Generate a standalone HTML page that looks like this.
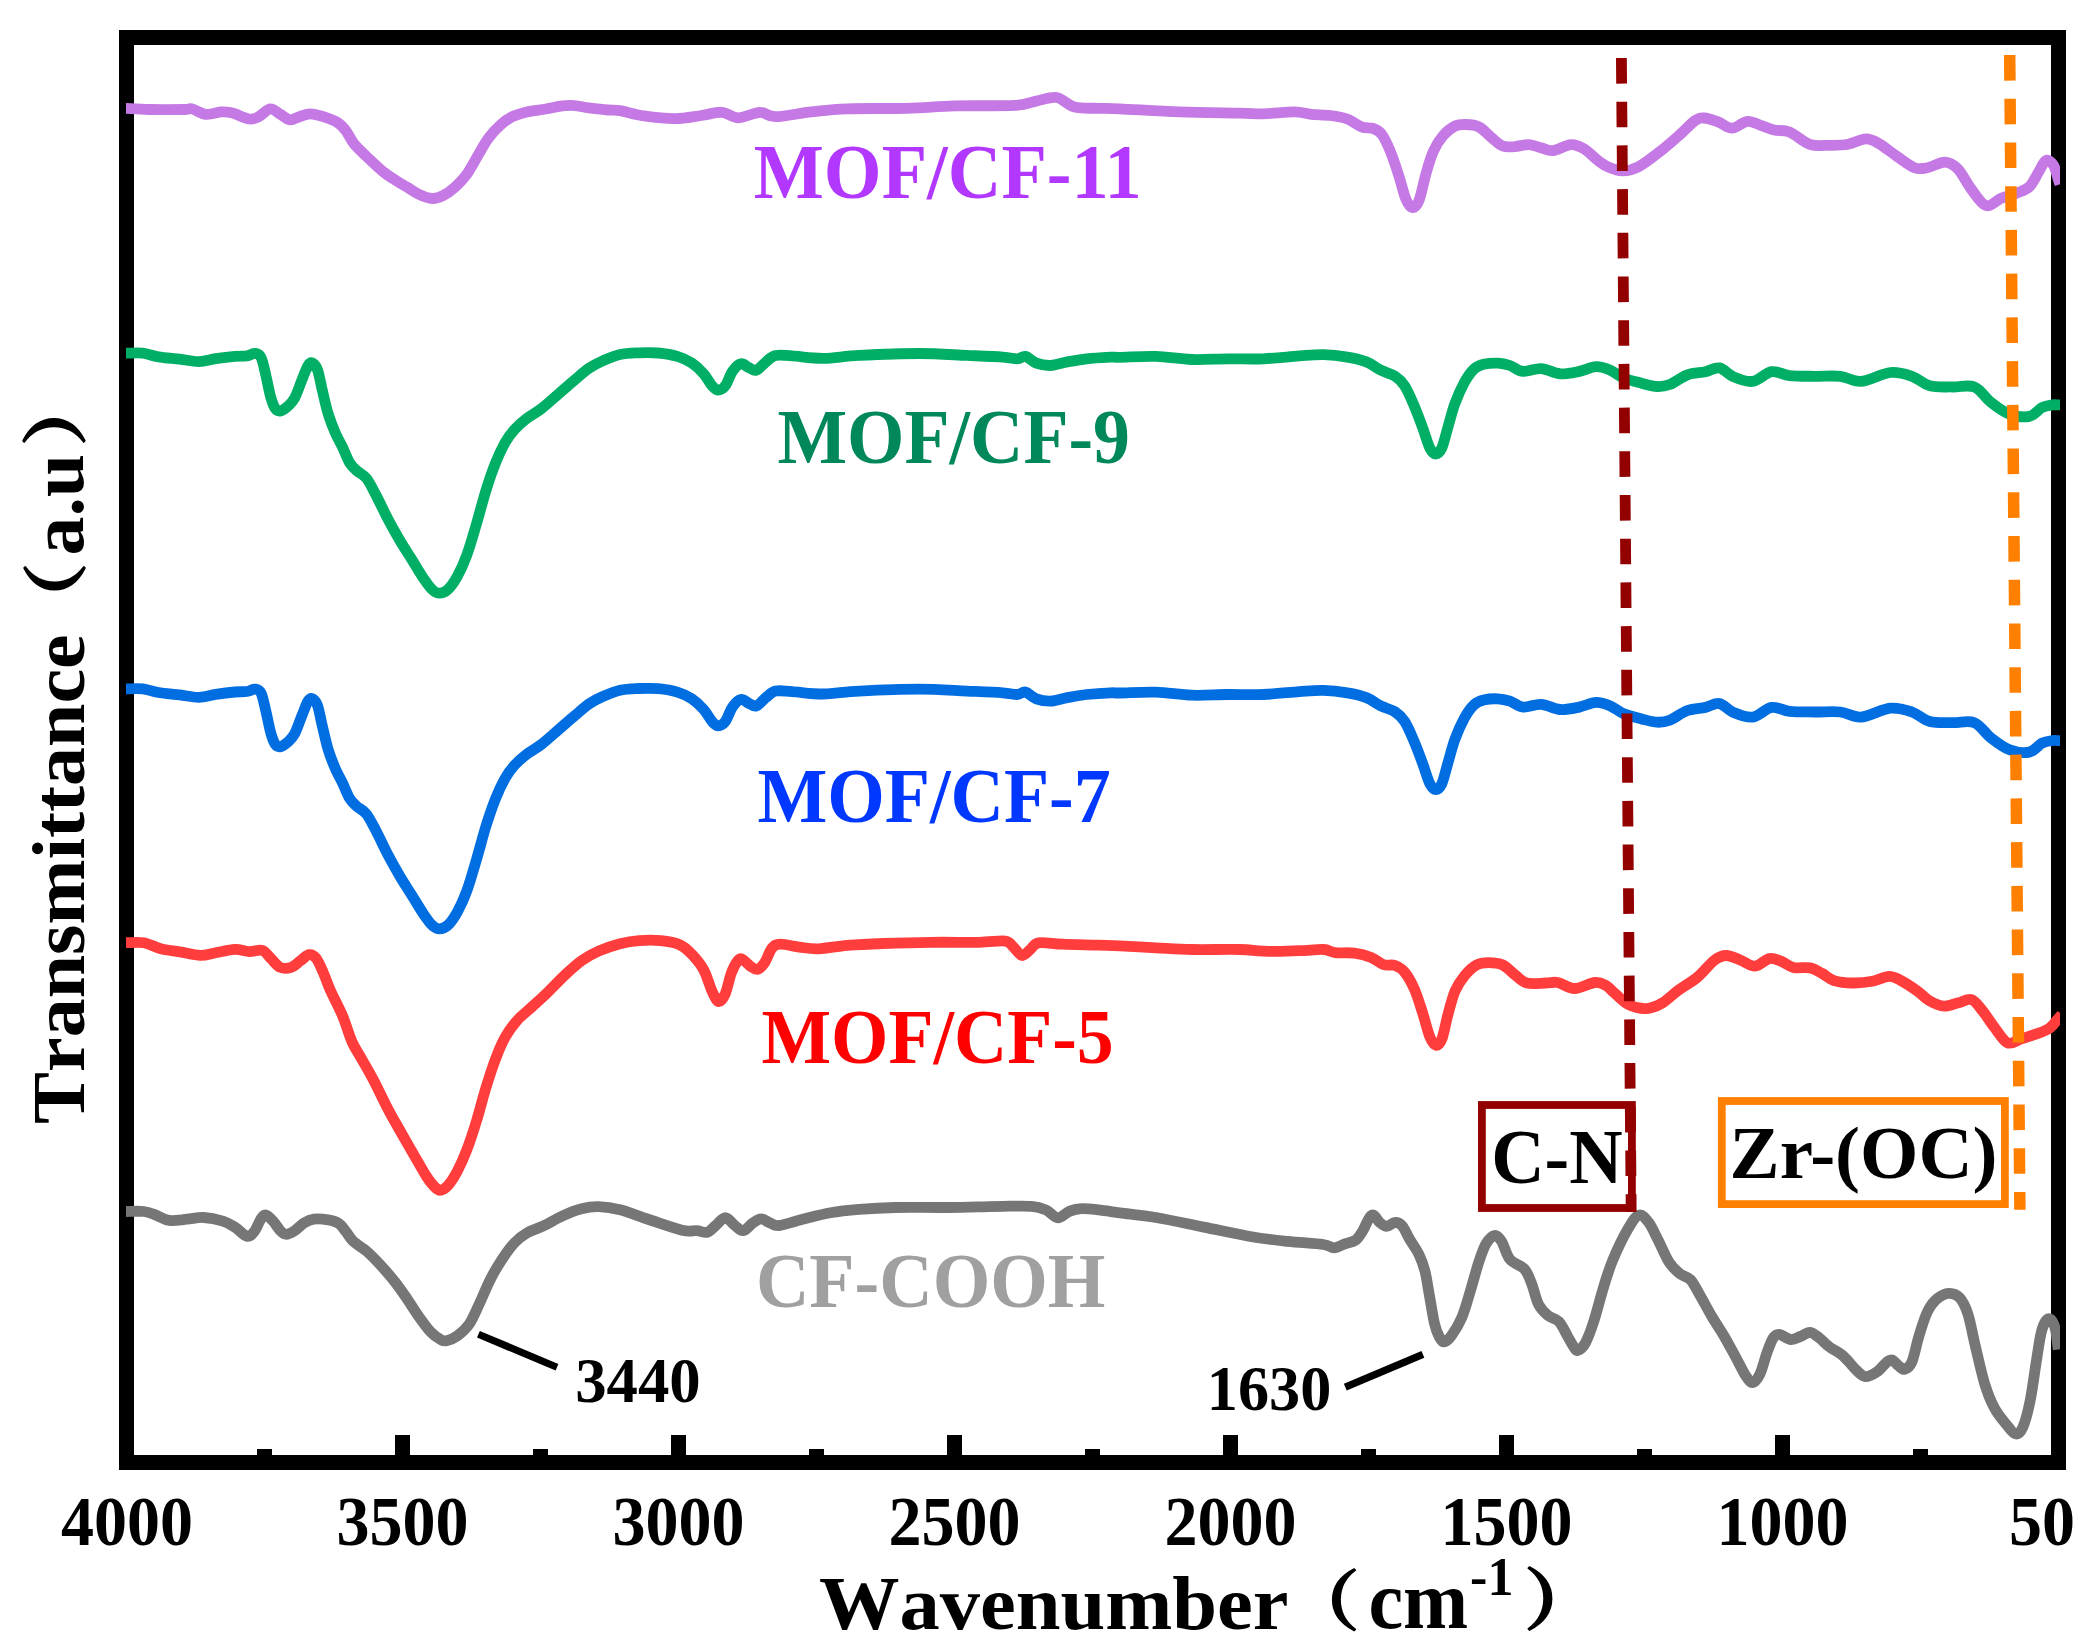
<!DOCTYPE html>
<html lang="en"><head><meta charset="utf-8"><title>FTIR spectra</title>
<style>html,body{margin:0;padding:0;background:#fff;overflow:hidden}svg{display:block}text{font-family:"Liberation Serif","Noto Serif CJK SC",serif;font-weight:bold}.nk{font-kerning:none}</style>
</head><body>
<svg width="2090" height="1647" viewBox="0 0 2090 1647">
<rect class="g" x="0" y="0" width="2090" height="1647" fill="#fff"/>
<rect class="g" x="126.5" y="37.5" width="1932.0" height="1425.0" fill="none" stroke="#000" stroke-width="15"/>
<rect class="g" x="257.0" y="1449" width="15.0" height="7.0" fill="#000"/>
<rect class="g" x="395.0" y="1435" width="15.0" height="21.0" fill="#000"/>
<rect class="g" x="533.0" y="1449" width="15.0" height="7.0" fill="#000"/>
<rect class="g" x="671.0" y="1435" width="15.0" height="21.0" fill="#000"/>
<rect class="g" x="809.0" y="1449" width="15.0" height="7.0" fill="#000"/>
<rect class="g" x="947.0" y="1435" width="15.0" height="21.0" fill="#000"/>
<rect class="g" x="1085.0" y="1449" width="15.0" height="7.0" fill="#000"/>
<rect class="g" x="1223.0" y="1435" width="15.0" height="21.0" fill="#000"/>
<rect class="g" x="1361.0" y="1449" width="15.0" height="7.0" fill="#000"/>
<rect class="g" x="1499.0" y="1435" width="15.0" height="21.0" fill="#000"/>
<rect class="g" x="1637.0" y="1449" width="15.0" height="7.0" fill="#000"/>
<rect class="g" x="1775.0" y="1435" width="15.0" height="21.0" fill="#000"/>
<rect class="g" x="1913.0" y="1449" width="15.0" height="7.0" fill="#000"/>
<defs><clipPath id="pc"><rect x="126" y="0" width="1934" height="1647"/></clipPath></defs>
<path class="g" clip-path="url(#pc)" d="M123.0,1211.5C123.5,1211.5 122.5,1211.5 126.0,1211.5C129.5,1211.5 138.9,1210.9 143.9,1211.5C148.9,1212.1 151.7,1213.6 155.9,1215.1C160.1,1216.6 163.8,1219.7 169.0,1220.4C174.2,1221.1 181.2,1219.7 187.0,1219.2C192.8,1218.7 197.7,1217.2 203.7,1217.5C209.7,1217.8 217.7,1219.5 222.9,1221.1C228.1,1222.7 230.8,1224.6 234.8,1227.1C238.8,1229.6 243.6,1235.4 246.8,1236.2C250.0,1237.0 251.6,1234.8 254.0,1231.9C256.4,1229.0 259.1,1221.5 261.1,1218.7C263.1,1215.9 263.9,1214.7 265.9,1215.1C267.9,1215.5 270.7,1218.5 273.1,1221.1C275.5,1223.7 278.1,1228.5 280.3,1230.7C282.5,1232.9 283.9,1234.3 286.3,1234.3C288.7,1234.3 291.6,1232.6 294.6,1230.7C297.6,1228.8 301.0,1224.7 304.2,1222.8C307.4,1220.9 309.8,1219.7 313.8,1219.2C317.8,1218.7 323.9,1219.2 328.1,1219.9C332.3,1220.6 335.9,1221.5 338.9,1223.5C341.9,1225.5 343.7,1228.9 346.1,1231.9C348.5,1234.9 349.9,1238.2 353.3,1241.4C356.7,1244.6 361.8,1247.0 366.4,1251.0C371.0,1255.0 376.0,1260.2 380.8,1265.4C385.6,1270.6 390.7,1276.5 395.1,1282.1C399.5,1287.7 403.1,1293.1 407.1,1298.9C411.1,1304.7 415.0,1311.2 419.0,1316.8C423.0,1322.4 427.4,1328.5 431.0,1332.3C434.6,1336.1 438.0,1338.1 440.6,1339.5C443.2,1340.9 443.8,1341.3 446.6,1340.7C449.4,1340.1 453.5,1338.7 457.3,1335.9C461.1,1333.1 465.7,1329.2 469.3,1324.0C472.9,1318.8 475.3,1312.4 478.9,1304.8C482.5,1297.2 486.8,1286.3 490.8,1278.5C494.8,1270.7 498.8,1264.2 502.8,1258.2C506.8,1252.2 510.7,1246.8 514.7,1242.6C518.7,1238.4 521.9,1235.9 526.7,1233.1C531.5,1230.3 537.4,1228.8 543.4,1225.9C549.4,1223.0 556.2,1218.7 562.6,1215.8C569.0,1212.9 575.7,1210.2 581.7,1208.7C587.7,1207.2 592.1,1206.5 598.5,1206.7C604.9,1206.9 611.6,1207.7 620.0,1209.8C628.4,1211.9 638.3,1216.1 648.7,1219.5C659.1,1222.9 674.2,1228.3 682.2,1230.2C690.2,1232.1 692.4,1230.4 696.6,1230.7C700.8,1231.0 704.1,1233.1 707.3,1232.2C710.5,1231.3 712.7,1227.9 715.7,1225.5C718.7,1223.1 722.1,1217.6 725.3,1217.6C728.5,1217.6 731.8,1223.3 734.8,1225.5C737.8,1227.7 740.2,1231.1 743.2,1230.7C746.2,1230.3 749.8,1225.1 752.8,1223.1C755.8,1221.1 758.3,1218.9 761.1,1218.8C763.9,1218.7 766.5,1221.5 769.5,1222.6C772.5,1223.7 773.7,1226.0 779.1,1225.5C784.5,1225.0 793.2,1221.6 801.8,1219.5C810.4,1217.4 820.9,1214.5 830.5,1212.8C840.1,1211.1 848.4,1210.3 859.2,1209.4C870.0,1208.5 881.1,1207.8 895.1,1207.5C909.1,1207.2 929.0,1207.6 943.0,1207.5C957.0,1207.4 968.9,1207.0 978.9,1206.8C988.9,1206.6 994.0,1206.4 1002.8,1206.3C1011.6,1206.2 1024.3,1205.7 1031.5,1206.3C1038.7,1206.9 1041.4,1208.0 1045.8,1209.9C1050.2,1211.8 1053.8,1217.6 1057.8,1217.8C1061.8,1218.0 1065.8,1212.6 1069.8,1211.1C1073.8,1209.6 1076.9,1208.9 1081.7,1208.7C1086.5,1208.5 1092.1,1209.2 1098.5,1209.9C1104.9,1210.6 1110.4,1211.5 1120.0,1212.8C1129.6,1214.1 1142.0,1215.1 1155.9,1217.5C1169.9,1219.9 1187.8,1223.9 1203.7,1227.1C1219.7,1230.3 1237.6,1234.3 1251.6,1236.7C1265.6,1239.1 1275.5,1240.1 1287.5,1241.4C1299.5,1242.7 1315.6,1243.4 1323.4,1244.5C1331.2,1245.6 1330.5,1248.0 1334.1,1247.9C1337.7,1247.8 1341.3,1245.1 1344.9,1243.8C1348.5,1242.5 1352.6,1242.4 1355.6,1240.2C1358.6,1238.0 1360.6,1234.3 1362.8,1230.7C1365.0,1227.1 1367.0,1221.3 1368.8,1218.7C1370.6,1216.1 1371.8,1214.5 1373.6,1215.1C1375.4,1215.7 1377.4,1220.4 1379.6,1222.3C1381.8,1224.2 1384.1,1226.4 1386.7,1226.4C1389.3,1226.4 1392.5,1222.4 1395.1,1222.3C1397.7,1222.2 1399.9,1223.1 1402.3,1225.9C1404.7,1228.7 1406.7,1234.2 1409.5,1239.0C1412.3,1243.8 1416.4,1249.2 1419.0,1254.6C1421.6,1260.0 1423.2,1264.1 1425.0,1271.3C1426.8,1278.5 1428.2,1288.9 1429.8,1297.7C1431.4,1306.5 1433.0,1317.4 1434.6,1324.0C1436.2,1330.6 1437.8,1334.1 1439.4,1337.1C1441.0,1340.1 1442.2,1342.1 1444.2,1341.9C1446.2,1341.7 1448.3,1340.1 1451.3,1335.9C1454.3,1331.7 1458.9,1324.4 1462.1,1316.8C1465.3,1309.2 1467.7,1299.7 1470.5,1290.5C1473.3,1281.3 1476.3,1269.6 1478.9,1261.8C1481.5,1254.0 1483.4,1248.2 1486.0,1243.8C1488.6,1239.4 1491.8,1235.9 1494.4,1235.5C1497.0,1235.1 1499.0,1237.4 1501.6,1241.4C1504.2,1245.4 1506.2,1254.8 1510.0,1259.4C1513.8,1264.0 1520.7,1264.9 1524.3,1268.9C1527.9,1272.9 1529.1,1277.3 1531.5,1283.3C1533.9,1289.3 1535.9,1299.4 1538.7,1304.8C1541.5,1310.2 1544.8,1312.8 1548.2,1315.6C1551.6,1318.4 1555.8,1318.2 1559.0,1321.6C1562.2,1325.0 1564.8,1331.5 1567.4,1335.9C1570.0,1340.3 1572.7,1345.5 1574.5,1347.9C1576.3,1350.3 1576.3,1351.1 1578.1,1350.3C1579.9,1349.5 1582.7,1347.9 1585.3,1343.1C1587.9,1338.3 1590.7,1330.8 1593.7,1321.6C1596.7,1312.4 1600.1,1298.4 1603.3,1288.1C1606.5,1277.8 1608.6,1270.0 1612.8,1260.0C1617.0,1250.0 1623.9,1235.8 1628.3,1228.3C1632.7,1220.8 1635.6,1216.1 1639.0,1215.1C1642.4,1214.1 1645.4,1218.1 1648.6,1222.3C1651.8,1226.5 1654.8,1233.6 1658.2,1240.2C1661.6,1246.8 1665.3,1256.2 1668.9,1261.8C1672.5,1267.4 1676.1,1270.7 1679.7,1273.7C1683.3,1276.7 1687.1,1276.1 1690.5,1279.7C1693.9,1283.3 1696.4,1289.1 1700.0,1295.3C1703.6,1301.5 1708.0,1310.0 1712.0,1316.8C1716.0,1323.6 1720.0,1329.1 1724.0,1335.9C1728.0,1342.7 1732.3,1350.9 1735.9,1357.5C1739.5,1364.1 1742.7,1371.2 1745.5,1375.4C1748.3,1379.6 1750.3,1382.8 1752.7,1382.6C1755.1,1382.4 1757.5,1379.2 1759.9,1374.2C1762.3,1369.2 1764.8,1358.7 1767.0,1352.7C1769.2,1346.7 1771.0,1341.4 1773.0,1338.3C1775.0,1335.2 1776.0,1334.1 1779.0,1334.3C1782.0,1334.5 1787.4,1339.2 1791.0,1339.5C1794.6,1339.8 1797.3,1337.6 1800.5,1336.4C1803.7,1335.2 1806.9,1332.0 1810.1,1332.3C1813.3,1332.6 1816.5,1335.9 1819.7,1338.3C1822.9,1340.7 1825.2,1343.7 1829.2,1346.7C1833.2,1349.7 1839.2,1352.5 1843.6,1356.3C1848.0,1360.1 1852.0,1366.0 1855.6,1369.4C1859.2,1372.8 1861.5,1376.2 1865.1,1376.6C1868.7,1377.0 1873.5,1374.2 1877.1,1371.8C1880.7,1369.4 1884.2,1364.2 1886.7,1362.2C1889.2,1360.2 1889.9,1359.3 1891.9,1359.9C1893.9,1360.5 1896.5,1364.2 1898.6,1365.8C1900.7,1367.4 1902.4,1370.0 1904.6,1369.4C1906.8,1368.8 1909.4,1367.8 1911.8,1362.2C1914.2,1356.6 1916.4,1344.3 1919.0,1335.9C1921.6,1327.5 1924.3,1318.2 1927.3,1312.0C1930.3,1305.8 1933.3,1302.0 1936.9,1298.9C1940.5,1295.8 1945.1,1293.5 1948.9,1293.3C1952.7,1293.1 1956.4,1294.2 1959.6,1297.7C1962.8,1301.2 1965.4,1306.4 1968.0,1314.4C1970.6,1322.4 1972.4,1333.9 1975.2,1345.5C1978.0,1357.1 1981.5,1373.4 1984.7,1383.8C1987.9,1394.2 1990.7,1400.9 1994.3,1407.7C1997.9,1414.5 2002.7,1420.0 2006.3,1424.4C2009.9,1428.8 2013.0,1433.6 2015.8,1434.0C2018.6,1434.4 2020.6,1432.4 2023.0,1426.8C2025.4,1421.2 2028.0,1411.3 2030.2,1400.5C2032.4,1389.7 2034.4,1373.4 2036.2,1362.2C2038.0,1351.0 2039.4,1340.3 2041.0,1333.5C2042.6,1326.7 2044.1,1323.5 2045.7,1321.1C2047.3,1318.7 2048.9,1317.9 2050.5,1319.2C2052.1,1320.5 2054.1,1324.4 2055.3,1328.8C2056.5,1333.2 2057.2,1342.1 2057.7,1345.5C2058.2,1348.9 2058.2,1348.8 2058.3,1349.5" fill="none" stroke="#767676" stroke-width="10.8" stroke-linejoin="round" stroke-linecap="butt"/>
<path class="g" clip-path="url(#pc)" d="M123.0,942.7C123.5,942.7 122.5,942.7 126.0,942.7C129.5,942.7 138.1,941.7 143.9,942.7C149.7,943.7 154.7,947.2 160.7,948.7C166.7,950.2 173.2,950.7 179.8,951.8C186.4,952.9 194.1,955.2 200.1,955.4C206.1,955.6 209.9,953.8 215.7,952.8C221.5,951.8 229.2,949.6 234.8,949.4C240.4,949.2 244.6,951.4 249.2,951.6C253.8,951.8 258.7,949.3 262.3,950.4C265.9,951.5 267.7,955.5 270.7,958.3C273.7,961.1 276.9,965.9 280.3,967.4C283.7,968.9 287.7,968.5 291.1,967.4C294.5,966.3 297.6,962.8 300.6,960.7C303.6,958.6 306.4,955.1 309.0,954.7C311.6,954.3 313.8,955.3 316.2,958.3C318.6,961.3 320.9,967.2 323.3,972.6C325.7,978.0 327.3,983.4 330.5,990.6C333.7,997.8 338.9,1007.1 342.5,1015.7C346.1,1024.3 348.9,1034.8 352.1,1042.0C355.3,1049.2 358.0,1052.4 361.6,1058.8C365.2,1065.2 369.2,1071.9 373.6,1080.3C378.0,1088.7 383.5,1100.6 387.9,1109.0C392.3,1117.4 395.5,1122.7 399.9,1130.5C404.3,1138.3 409.9,1148.0 414.3,1155.6C418.7,1163.2 423.0,1171.0 426.2,1176.0C429.4,1181.0 431.1,1183.2 433.4,1185.6C435.7,1188.0 437.5,1190.3 439.9,1190.3C442.3,1190.3 444.9,1188.8 447.8,1185.6C450.7,1182.4 454.1,1177.2 457.3,1171.2C460.5,1165.2 463.7,1158.1 466.9,1149.7C470.1,1141.3 473.3,1131.4 476.5,1121.0C479.7,1110.6 482.8,1097.9 486.0,1087.5C489.2,1077.1 492.4,1067.2 495.6,1058.8C498.8,1050.4 501.6,1043.6 505.2,1037.2C508.8,1030.8 512.7,1025.5 517.1,1020.5C521.5,1015.5 526.3,1012.1 531.5,1007.3C536.7,1002.5 542.6,997.2 548.2,991.8C553.8,986.4 559.4,980.2 565.0,975.0C570.6,969.8 576.1,964.7 581.7,960.7C587.3,956.7 592.1,953.9 598.5,951.1C604.9,948.3 613.2,945.5 620.0,943.7C626.8,942.0 632.3,941.1 639.1,940.6C645.9,940.1 653.9,939.9 660.7,940.6C667.5,941.3 674.6,942.4 679.8,944.7C685.0,947.0 687.8,950.1 691.8,954.3C695.8,958.5 700.3,963.6 703.7,969.8C707.1,976.0 709.6,986.0 712.1,991.3C714.6,996.6 716.4,1001.2 718.6,1001.6C720.8,1002.0 723.2,998.4 725.3,993.7C727.4,989.0 729.2,978.8 731.2,973.4C733.2,968.0 735.4,963.8 737.2,961.4C739.0,959.0 739.8,958.2 742.0,959.0C744.2,959.8 747.8,964.5 750.4,966.2C753.0,967.9 755.2,969.9 757.6,969.3C760.0,968.7 762.3,966.1 764.7,962.6C767.1,959.1 769.3,951.4 771.9,948.3C774.5,945.2 775.7,944.4 780.3,944.2C784.9,944.0 793.0,946.3 799.4,947.1C805.8,947.9 810.6,949.1 818.6,948.8C826.6,948.5 836.5,946.3 847.3,945.4C858.1,944.5 869.2,944.0 883.2,943.5C897.2,943.0 915.0,942.5 931.0,942.3C947.0,942.1 966.5,942.5 978.9,942.3C991.3,942.1 999.4,940.3 1005.2,941.1C1011.0,941.9 1010.7,944.7 1013.5,947.1C1016.3,949.5 1019.1,955.1 1021.9,955.5C1024.7,955.9 1027.5,951.6 1030.3,949.5C1033.1,947.4 1033.3,943.7 1038.7,942.8C1044.1,941.9 1052.6,943.8 1062.6,944.2C1072.6,944.6 1088.9,944.9 1098.5,945.2C1108.1,945.5 1110.4,945.5 1120.0,945.9C1129.6,946.3 1143.9,947.2 1155.9,947.8C1167.9,948.4 1177.8,949.2 1191.8,949.5C1205.8,949.8 1226.8,949.2 1239.6,949.5C1252.3,949.8 1258.3,951.2 1268.3,951.4C1278.3,951.6 1290.2,951.0 1299.4,950.7C1308.6,950.4 1317.4,949.2 1323.4,949.5C1329.4,949.8 1330.1,952.0 1335.3,952.6C1340.5,953.2 1348.4,952.3 1354.4,953.1C1360.4,953.9 1366.4,955.5 1371.2,957.4C1376.0,959.3 1379.2,963.1 1383.2,964.5C1387.2,965.9 1391.5,964.2 1395.1,965.5C1398.7,966.8 1401.5,968.3 1404.7,972.2C1407.9,976.1 1411.3,982.1 1414.3,988.9C1417.3,995.7 1420.0,1004.9 1422.6,1012.9C1425.2,1020.9 1427.6,1031.4 1429.8,1036.8C1432.0,1042.2 1433.8,1044.8 1435.8,1045.2C1437.8,1045.6 1439.8,1044.2 1441.8,1039.2C1443.8,1034.2 1445.6,1023.3 1447.8,1015.3C1450.0,1007.3 1452.1,997.9 1454.9,991.3C1457.7,984.7 1460.9,980.2 1464.5,975.8C1468.1,971.4 1472.5,967.2 1476.5,965.0C1480.5,962.8 1484.0,962.6 1488.4,962.6C1492.8,962.6 1498.4,963.0 1502.8,965.0C1507.2,967.0 1510.7,971.6 1514.7,974.6C1518.7,977.6 1521.5,981.6 1526.7,983.0C1531.9,984.4 1540.6,983.1 1545.8,983.0C1551.0,982.9 1553.0,981.6 1557.8,982.5C1562.6,983.4 1568.3,988.5 1574.5,988.5C1580.7,988.5 1589.7,983.0 1594.9,982.5C1600.2,982.0 1602.8,983.8 1606.0,985.5C1609.2,987.2 1610.2,989.3 1613.9,992.5C1617.6,995.7 1622.9,1001.8 1628.3,1004.5C1633.7,1007.2 1640.6,1008.8 1646.2,1008.6C1651.8,1008.4 1656.4,1006.4 1661.8,1003.3C1667.2,1000.2 1672.5,994.5 1678.5,990.1C1684.5,985.7 1691.7,982.0 1697.7,977.0C1703.7,972.0 1709.6,963.8 1714.4,960.2C1719.2,956.6 1722.0,955.5 1726.4,955.5C1730.8,955.5 1735.9,958.4 1740.7,960.2C1745.5,962.0 1750.3,966.5 1755.1,966.2C1759.9,965.9 1765.0,959.4 1769.4,958.6C1773.8,957.8 1777.4,959.9 1781.4,961.4C1785.4,962.9 1788.5,966.3 1793.3,967.4C1798.1,968.5 1805.3,966.9 1810.1,967.9C1814.9,968.9 1818.1,971.3 1822.1,973.4C1826.1,975.5 1828.8,979.0 1834.0,980.6C1839.2,982.2 1846.8,982.9 1853.2,983.0C1859.6,983.1 1866.3,982.4 1872.3,981.3C1878.3,980.2 1884.2,976.4 1889.0,976.3C1893.8,976.2 1896.2,978.1 1901.0,980.6C1905.8,983.1 1913.0,987.9 1917.8,991.3C1922.6,994.7 1925.3,998.4 1929.7,1000.9C1934.1,1003.4 1939.3,1005.9 1944.1,1006.2C1948.9,1006.5 1953.8,1003.9 1958.4,1002.8C1963.0,1001.7 1967.6,998.4 1971.6,999.7C1975.6,1001.0 1978.5,1005.9 1982.3,1010.5C1986.1,1015.1 1990.1,1021.8 1994.3,1027.2C1998.5,1032.6 2003.1,1040.8 2007.5,1042.8C2011.9,1044.8 2016.0,1040.6 2020.6,1039.2C2025.2,1037.8 2030.2,1036.2 2035.0,1034.4C2039.8,1032.6 2045.3,1031.2 2049.3,1028.4C2053.3,1025.6 2056.9,1020.0 2058.9,1017.7C2060.9,1015.4 2061.1,1015.2 2061.6,1014.7" fill="none" stroke="#FF3D3D" stroke-width="10.8" stroke-linejoin="round" stroke-linecap="butt"/>
<path class="g" clip-path="url(#pc)" d="M123.0,688.9C123.5,688.9 122.7,688.9 126.0,688.9C129.3,688.9 137.3,688.3 142.7,688.9C148.1,689.5 152.1,691.5 158.3,692.5C164.5,693.5 173.0,694.1 179.8,694.9C186.6,695.7 192.9,697.4 198.9,697.3C204.9,697.2 209.7,695.3 215.7,694.4C221.7,693.5 229.6,692.5 234.8,692.0C240.0,691.5 243.4,692.0 246.8,691.5C250.2,691.0 252.8,688.8 255.2,689.1C257.6,689.4 259.3,689.5 261.1,693.2C262.9,696.9 264.3,704.6 265.9,711.2C267.5,717.8 269.1,727.1 270.7,732.7C272.3,738.3 273.8,742.3 275.5,744.6C277.2,746.9 278.8,747.0 280.8,746.6C282.8,746.2 285.2,744.4 287.5,742.3C289.8,740.2 292.2,738.3 294.6,733.9C297.0,729.5 299.6,721.3 301.8,715.9C304.0,710.5 306.1,704.5 307.8,701.6C309.5,698.7 310.5,697.9 312.1,698.5C313.7,699.1 315.7,700.7 317.4,705.2C319.1,709.7 320.4,718.1 322.2,725.5C324.0,732.9 325.9,742.2 328.1,749.4C330.3,756.6 332.9,763.0 335.3,768.6C337.7,774.2 340.1,777.9 342.5,782.9C344.9,787.9 347.3,794.6 349.7,798.5C352.1,802.4 354.0,803.8 356.8,806.4C359.6,809.0 363.2,809.9 366.4,814.0C369.6,818.1 372.4,824.0 376.0,830.8C379.6,837.6 383.9,847.1 387.9,854.7C391.9,862.3 395.9,869.4 399.9,876.2C403.9,883.0 407.9,889.0 411.9,895.4C415.9,901.8 420.4,909.5 423.8,914.5C427.2,919.5 429.6,922.9 432.2,925.3C434.8,927.7 436.8,928.9 439.4,928.9C442.0,928.9 444.8,928.1 447.8,925.3C450.8,922.5 454.1,917.9 457.3,912.1C460.5,906.3 463.7,899.4 466.9,890.6C470.1,881.8 473.3,870.3 476.5,859.5C479.7,848.7 482.8,836.2 486.0,826.0C489.2,815.8 492.4,806.5 495.6,798.5C498.8,790.5 502.0,783.7 505.2,778.1C508.4,772.5 511.1,769.0 514.7,765.0C518.3,761.0 522.3,757.6 526.7,754.2C531.1,750.8 535.9,748.6 541.1,744.6C546.3,740.6 552.2,735.1 557.8,730.3C563.4,725.5 569.3,720.3 574.5,715.9C579.7,711.5 584.1,707.3 588.9,704.0C593.7,700.7 598.1,698.6 603.3,696.3C608.5,694.0 614.0,691.5 620.0,690.2C626.0,688.9 632.7,688.8 639.1,688.5C645.5,688.2 651.9,688.1 658.3,688.7C664.7,689.3 671.8,690.4 677.4,692.1C683.0,693.8 687.4,695.9 691.8,698.8C696.2,701.7 700.3,705.7 703.7,709.5C707.1,713.3 709.7,718.8 712.1,721.5C714.5,724.2 715.9,725.8 718.1,725.8C720.3,725.8 722.9,724.6 725.3,721.5C727.7,718.4 729.8,710.8 732.4,707.1C735.0,703.4 738.0,700.1 740.8,699.5C743.6,698.9 746.6,702.4 749.2,703.5C751.8,704.6 753.6,706.9 756.4,705.9C759.2,704.9 762.7,700.1 765.9,697.6C769.1,695.1 771.1,692.1 775.5,691.1C779.9,690.1 784.2,691.1 792.2,691.6C800.2,692.1 812.1,694.1 823.3,694.0C834.5,693.9 843.2,691.9 859.2,691.1C875.2,690.3 901.0,689.2 919.0,689.2C937.0,689.2 952.9,690.5 966.9,691.1C980.9,691.7 994.4,692.2 1002.8,692.8C1011.2,693.4 1013.3,694.6 1017.1,694.5C1020.9,694.4 1022.3,691.4 1025.5,692.1C1028.7,692.8 1032.1,697.3 1036.3,698.8C1040.5,700.3 1045.4,701.4 1050.6,701.2C1055.8,701.0 1061.4,698.7 1067.4,697.6C1073.4,696.5 1079.3,695.3 1086.5,694.5C1093.7,693.7 1104.8,693.0 1110.4,692.8C1116.0,692.5 1112.4,693.1 1120.0,693.0C1127.6,692.9 1143.9,691.7 1155.9,692.1C1167.9,692.5 1179.8,694.8 1191.8,695.2C1203.8,695.6 1215.8,694.6 1227.7,694.5C1239.7,694.4 1251.5,695.0 1263.5,694.5C1275.5,694.0 1289.4,692.3 1299.4,691.6C1309.4,690.9 1315.4,690.2 1323.4,690.4C1331.4,690.6 1340.1,691.6 1347.3,692.8C1354.5,694.0 1360.8,695.4 1366.4,697.6C1372.0,699.8 1376.0,703.5 1380.8,705.9C1385.6,708.3 1391.1,709.3 1395.1,711.9C1399.1,714.5 1401.5,716.5 1404.7,721.5C1407.9,726.5 1411.3,734.8 1414.3,741.8C1417.3,748.8 1420.0,756.4 1422.6,763.4C1425.2,770.4 1427.6,779.3 1429.8,783.7C1432.0,788.1 1433.8,789.7 1435.8,789.7C1437.8,789.7 1439.8,788.1 1441.8,783.7C1443.8,779.3 1445.6,770.8 1447.8,763.4C1450.0,756.0 1452.1,747.0 1454.9,739.4C1457.7,731.8 1461.3,723.7 1464.5,717.9C1467.7,712.1 1470.9,707.7 1474.1,704.7C1477.3,701.7 1479.6,701.0 1483.6,700.0C1487.6,699.0 1493.6,698.6 1498.0,698.8C1502.4,699.0 1505.8,699.8 1510.0,701.2C1514.2,702.6 1517.9,706.6 1523.1,707.1C1528.3,707.6 1534.9,703.9 1541.1,704.3C1547.3,704.7 1553.8,709.0 1560.2,709.5C1566.6,710.0 1573.3,708.3 1579.3,707.1C1585.3,705.9 1590.9,702.6 1596.1,702.4C1601.3,702.2 1605.8,704.0 1610.4,705.9C1615.0,707.8 1618.6,711.6 1623.8,713.8C1629.0,716.0 1636.1,717.5 1641.6,718.9C1647.1,720.3 1652.2,722.0 1656.9,722.2C1661.6,722.4 1664.6,722.2 1669.7,720.2C1674.8,718.2 1681.5,712.6 1687.5,710.5C1693.5,708.4 1700.1,708.5 1705.4,707.4C1710.7,706.2 1714.7,702.7 1719.4,703.6C1724.1,704.4 1727.9,710.2 1733.4,712.5C1738.9,714.8 1746.2,717.9 1752.6,717.1C1759.0,716.2 1765.5,708.4 1771.7,707.4C1777.9,706.4 1782.3,710.5 1789.5,711.3C1796.7,712.1 1806.5,711.9 1815.0,712.0C1823.5,712.1 1832.8,711.1 1840.5,712.0C1848.2,712.9 1852.6,717.7 1860.9,717.1C1869.2,716.5 1881.8,709.1 1890.3,708.2C1898.8,707.4 1905.4,709.8 1912.0,712.0C1918.6,714.2 1923.0,719.7 1929.8,721.5C1936.6,723.3 1945.4,722.5 1952.8,722.7C1960.2,722.9 1968.0,720.2 1974.4,722.7C1980.8,725.2 1985.2,733.5 1991.0,738.0C1996.8,742.5 2002.5,747.1 2008.9,749.5C2015.3,751.9 2023.8,753.1 2029.3,752.1C2034.8,751.0 2038.2,745.1 2042.0,743.2C2045.8,741.3 2049.4,741.0 2052.2,740.6C2055.0,740.2 2056.9,740.6 2058.6,740.6C2060.3,740.6 2061.9,740.6 2062.6,740.6" fill="none" stroke="#006DE0" stroke-width="10.8" stroke-linejoin="round" stroke-linecap="butt"/>
<path class="g" clip-path="url(#pc)" d="M123.0,353.2C123.5,353.2 122.7,353.2 126.0,353.2C129.3,353.2 137.3,352.6 142.7,353.2C148.1,353.8 152.1,355.8 158.3,356.8C164.5,357.8 173.0,358.4 179.8,359.2C186.6,360.0 192.9,361.7 198.9,361.6C204.9,361.5 209.7,359.6 215.7,358.7C221.7,357.8 229.6,356.8 234.8,356.3C240.0,355.8 243.4,356.3 246.8,355.8C250.2,355.3 252.8,353.1 255.2,353.4C257.6,353.7 259.3,353.8 261.1,357.5C262.9,361.2 264.3,368.9 265.9,375.5C267.5,382.1 269.1,391.4 270.7,397.0C272.3,402.6 273.8,406.6 275.5,408.9C277.2,411.2 278.8,411.3 280.8,410.9C282.8,410.5 285.2,408.7 287.5,406.6C289.8,404.5 292.2,402.6 294.6,398.2C297.0,393.8 299.6,385.6 301.8,380.2C304.0,374.8 306.1,368.8 307.8,365.9C309.5,363.0 310.5,362.2 312.1,362.8C313.7,363.4 315.7,365.0 317.4,369.5C319.1,374.0 320.4,382.4 322.2,389.8C324.0,397.2 325.9,406.5 328.1,413.7C330.3,420.9 332.9,427.3 335.3,432.9C337.7,438.5 340.1,442.2 342.5,447.2C344.9,452.2 347.3,458.9 349.7,462.8C352.1,466.7 354.0,468.1 356.8,470.7C359.6,473.3 363.2,474.2 366.4,478.3C369.6,482.4 372.4,488.3 376.0,495.1C379.6,501.9 383.9,511.4 387.9,519.0C391.9,526.6 395.9,533.7 399.9,540.5C403.9,547.3 407.9,553.3 411.9,559.7C415.9,566.1 420.4,573.8 423.8,578.8C427.2,583.8 429.6,587.2 432.2,589.6C434.8,592.0 436.8,593.2 439.4,593.2C442.0,593.2 444.8,592.4 447.8,589.6C450.8,586.8 454.1,582.2 457.3,576.4C460.5,570.6 463.7,563.7 466.9,554.9C470.1,546.1 473.3,534.6 476.5,523.8C479.7,513.0 482.8,500.5 486.0,490.3C489.2,480.1 492.4,470.8 495.6,462.8C498.8,454.8 502.0,448.0 505.2,442.4C508.4,436.8 511.1,433.3 514.7,429.3C518.3,425.3 522.3,421.9 526.7,418.5C531.1,415.1 535.9,412.9 541.1,408.9C546.3,404.9 552.2,399.4 557.8,394.6C563.4,389.8 569.3,384.6 574.5,380.2C579.7,375.8 584.1,371.6 588.9,368.3C593.7,365.0 598.1,362.9 603.3,360.6C608.5,358.3 614.0,355.8 620.0,354.5C626.0,353.2 632.7,353.1 639.1,352.8C645.5,352.6 651.9,352.4 658.3,353.0C664.7,353.6 671.8,354.7 677.4,356.4C683.0,358.1 687.4,360.2 691.8,363.1C696.2,366.0 700.3,370.0 703.7,373.8C707.1,377.6 709.7,383.1 712.1,385.8C714.5,388.5 715.9,390.1 718.1,390.1C720.3,390.1 722.9,388.9 725.3,385.8C727.7,382.7 729.8,375.1 732.4,371.4C735.0,367.7 738.0,364.4 740.8,363.8C743.6,363.2 746.6,366.7 749.2,367.8C751.8,368.9 753.6,371.2 756.4,370.2C759.2,369.2 762.7,364.4 765.9,361.9C769.1,359.4 771.1,356.4 775.5,355.4C779.9,354.4 784.2,355.4 792.2,355.9C800.2,356.4 812.1,358.4 823.3,358.3C834.5,358.2 843.2,356.2 859.2,355.4C875.2,354.6 901.0,353.5 919.0,353.5C937.0,353.5 952.9,354.8 966.9,355.4C980.9,356.0 994.4,356.5 1002.8,357.1C1011.2,357.7 1013.3,358.9 1017.1,358.8C1020.9,358.7 1022.3,355.7 1025.5,356.4C1028.7,357.1 1032.1,361.6 1036.3,363.1C1040.5,364.6 1045.4,365.7 1050.6,365.5C1055.8,365.3 1061.4,363.0 1067.4,361.9C1073.4,360.8 1079.3,359.6 1086.5,358.8C1093.7,358.0 1104.8,357.4 1110.4,357.1C1116.0,356.9 1112.4,357.4 1120.0,357.3C1127.6,357.2 1143.9,356.0 1155.9,356.4C1167.9,356.8 1179.8,359.1 1191.8,359.5C1203.8,359.9 1215.8,358.9 1227.7,358.8C1239.7,358.7 1251.5,359.3 1263.5,358.8C1275.5,358.3 1289.4,356.6 1299.4,355.9C1309.4,355.2 1315.4,354.5 1323.4,354.7C1331.4,354.9 1340.1,355.9 1347.3,357.1C1354.5,358.3 1360.8,359.7 1366.4,361.9C1372.0,364.1 1376.0,367.8 1380.8,370.2C1385.6,372.6 1391.1,373.6 1395.1,376.2C1399.1,378.8 1401.5,380.8 1404.7,385.8C1407.9,390.8 1411.3,399.1 1414.3,406.1C1417.3,413.1 1420.0,420.7 1422.6,427.7C1425.2,434.7 1427.6,443.6 1429.8,448.0C1432.0,452.4 1433.8,454.0 1435.8,454.0C1437.8,454.0 1439.8,452.4 1441.8,448.0C1443.8,443.6 1445.6,435.1 1447.8,427.7C1450.0,420.3 1452.1,411.3 1454.9,403.7C1457.7,396.1 1461.3,388.0 1464.5,382.2C1467.7,376.4 1470.9,372.0 1474.1,369.0C1477.3,366.0 1479.6,365.3 1483.6,364.3C1487.6,363.3 1493.6,362.9 1498.0,363.1C1502.4,363.3 1505.8,364.1 1510.0,365.5C1514.2,366.9 1517.9,370.9 1523.1,371.4C1528.3,371.9 1534.9,368.2 1541.1,368.6C1547.3,369.0 1553.8,373.3 1560.2,373.8C1566.6,374.3 1573.3,372.6 1579.3,371.4C1585.3,370.2 1590.9,366.9 1596.1,366.7C1601.3,366.5 1605.8,368.3 1610.4,370.2C1615.0,372.1 1618.6,375.9 1623.8,378.1C1629.0,380.3 1636.1,381.8 1641.6,383.2C1647.1,384.6 1652.2,386.3 1656.9,386.5C1661.6,386.7 1664.6,386.4 1669.7,384.5C1674.8,382.6 1681.5,376.9 1687.5,374.8C1693.5,372.7 1700.1,372.9 1705.4,371.7C1710.7,370.5 1714.7,367.0 1719.4,367.9C1724.1,368.8 1727.9,374.6 1733.4,376.8C1738.9,379.1 1746.2,382.2 1752.6,381.4C1759.0,380.5 1765.5,372.7 1771.7,371.7C1777.9,370.7 1782.3,374.8 1789.5,375.6C1796.7,376.4 1806.5,376.2 1815.0,376.3C1823.5,376.4 1832.8,375.5 1840.5,376.3C1848.2,377.1 1852.6,382.0 1860.9,381.4C1869.2,380.8 1881.8,373.4 1890.3,372.5C1898.8,371.6 1905.4,374.1 1912.0,376.3C1918.6,378.5 1923.0,384.0 1929.8,385.8C1936.6,387.6 1945.4,386.8 1952.8,387.0C1960.2,387.2 1968.0,384.4 1974.4,387.0C1980.8,389.6 1985.2,397.8 1991.0,402.3C1996.8,406.8 2002.5,411.5 2008.9,413.8C2015.3,416.1 2023.8,417.4 2029.3,416.4C2034.8,415.3 2038.2,409.4 2042.0,407.5C2045.8,405.6 2049.4,405.3 2052.2,404.9C2055.0,404.5 2056.9,404.9 2058.6,404.9C2060.3,404.9 2061.9,404.9 2062.6,404.9" fill="none" stroke="#00AE65" stroke-width="10.8" stroke-linejoin="round" stroke-linecap="butt"/>
<path class="g" clip-path="url(#pc)" d="M123.0,108.3C123.5,108.3 121.7,108.1 126.0,108.3C130.3,108.5 138.9,109.3 148.7,109.5C158.5,109.7 177.4,109.6 184.6,109.5C191.8,109.4 188.2,108.0 191.8,108.8C195.4,109.6 201.1,113.8 206.1,114.3C211.1,114.8 217.3,112.1 221.7,111.9C226.1,111.7 227.8,111.9 232.4,113.1C237.0,114.3 244.8,118.4 249.2,119.0C253.6,119.6 255.3,118.4 258.8,116.7C262.3,115.0 266.6,109.2 270.2,108.8C273.8,108.4 277.0,112.5 280.3,114.3C283.6,116.1 286.7,119.4 289.9,119.8C293.1,120.2 296.0,117.7 299.4,116.7C302.8,115.7 306.2,113.8 310.2,113.8C314.2,113.8 318.7,115.2 323.3,116.7C327.9,118.2 333.9,120.2 337.7,122.6C341.5,125.0 343.3,127.4 346.1,131.0C348.9,134.6 350.2,139.2 354.4,144.2C358.6,149.2 366.4,156.3 371.2,160.9C376.0,165.5 379.2,168.5 383.2,171.7C387.2,174.9 391.1,177.4 395.1,180.0C399.1,182.6 403.1,184.8 407.1,187.2C411.1,189.6 414.8,192.5 419.0,194.4C423.2,196.3 428.2,198.3 432.2,198.5C436.2,198.7 439.2,197.5 443.0,195.6C446.8,193.7 450.9,190.8 454.9,187.2C458.9,183.6 462.9,179.7 466.9,174.1C470.9,168.5 475.3,159.7 478.9,153.7C482.5,147.7 484.8,143.0 488.4,138.2C492.0,133.4 496.4,128.6 500.4,125.0C504.4,121.4 507.9,118.9 512.3,116.7C516.7,114.5 521.1,113.2 526.7,111.9C532.3,110.6 539.8,110.0 545.8,109.0C551.8,108.0 557.8,106.5 562.6,105.9C567.4,105.3 570.1,105.3 574.5,105.6C578.9,105.9 583.3,107.1 588.9,107.8C594.5,108.5 602.8,109.5 608.0,110.0C613.2,110.5 614.0,109.7 620.0,110.7C626.0,111.7 634.7,114.6 643.9,115.9C653.1,117.2 665.4,118.7 675.0,118.6C684.6,118.5 693.5,116.5 701.3,115.5C709.1,114.5 715.5,111.9 721.7,112.3C727.9,112.7 732.0,117.8 738.4,117.8C744.8,117.8 753.8,112.5 760.0,112.3C766.2,112.1 766.9,116.8 775.5,116.7C784.1,116.6 799.4,113.2 811.4,111.9C823.4,110.6 831.3,109.4 847.3,108.8C863.2,108.2 889.2,108.8 907.1,108.3C925.0,107.8 937.0,106.4 954.9,105.9C972.8,105.4 1001.1,106.2 1014.7,105.4C1028.3,104.6 1029.3,102.4 1036.3,101.1C1043.3,99.8 1050.2,96.5 1056.6,97.5C1063.0,98.5 1067.5,105.3 1074.5,107.1C1081.5,108.9 1090.9,108.0 1098.5,108.3C1106.1,108.6 1106.5,108.2 1120.0,108.8C1133.5,109.4 1159.9,111.2 1179.8,111.9C1199.7,112.6 1225.6,112.8 1239.6,113.1C1253.5,113.4 1254.3,114.0 1263.5,113.8C1272.7,113.6 1286.6,111.8 1294.6,111.9C1302.6,112.0 1305.4,113.7 1311.4,114.3C1317.4,114.9 1324.5,114.7 1330.5,115.5C1336.5,116.3 1342.1,117.1 1347.3,119.0C1352.5,120.9 1357.2,125.3 1361.6,126.9C1366.0,128.5 1370.2,127.3 1373.6,128.6C1377.0,129.9 1379.2,130.8 1382.0,134.6C1384.8,138.4 1387.5,144.5 1390.3,151.3C1393.1,158.1 1396.1,167.3 1398.7,175.3C1401.3,183.3 1403.6,193.8 1405.9,199.2C1408.2,204.6 1410.1,207.4 1412.3,207.6C1414.5,207.8 1416.7,206.2 1419.0,200.4C1421.3,194.6 1423.8,181.1 1426.2,172.9C1428.6,164.7 1430.6,157.5 1433.4,151.3C1436.2,145.1 1439.4,140.0 1443.0,135.8C1446.6,131.6 1451.1,128.1 1454.9,126.2C1458.7,124.3 1461.7,124.4 1465.7,124.5C1469.7,124.6 1474.7,124.8 1478.9,126.9C1483.1,129.0 1486.8,133.8 1490.8,137.0C1494.8,140.2 1498.8,144.5 1502.8,146.1C1506.8,147.7 1510.3,146.8 1514.7,146.6C1519.1,146.3 1524.7,144.4 1529.1,144.6C1533.5,144.8 1537.1,146.8 1541.1,147.8C1545.1,148.8 1548.0,151.1 1553.0,150.6C1558.0,150.1 1565.8,144.9 1571.0,144.6C1576.2,144.3 1579.5,146.2 1584.1,148.9C1588.7,151.6 1594.5,157.9 1598.5,160.9C1602.5,163.9 1604.0,165.2 1608.0,166.9C1612.0,168.6 1617.3,170.9 1622.5,170.8C1627.7,170.7 1632.5,169.9 1639.1,166.4C1645.7,162.9 1655.2,155.2 1662.0,149.9C1668.8,144.6 1674.4,139.5 1679.9,134.6C1685.4,129.7 1691.2,123.3 1695.2,120.5C1699.2,117.7 1700.3,117.8 1704.1,118.0C1707.9,118.2 1713.4,120.1 1718.1,121.8C1722.8,123.5 1727.2,128.3 1732.1,128.2C1737.0,128.1 1742.5,121.7 1747.4,121.3C1752.3,120.9 1757.0,124.1 1761.5,125.6C1766.0,127.0 1769.5,128.9 1774.2,130.0C1778.9,131.1 1783.5,129.6 1789.5,132.0C1795.5,134.4 1803.1,142.1 1809.9,144.3C1816.7,146.5 1823.9,145.3 1830.3,145.3C1836.7,145.3 1842.2,145.4 1848.2,144.3C1854.2,143.2 1860.9,139.0 1866.0,138.9C1871.1,138.8 1873.7,140.6 1878.8,143.5C1883.9,146.4 1890.8,152.2 1896.7,156.2C1902.7,160.2 1909.4,165.8 1914.5,167.7C1919.6,169.6 1922.2,168.6 1927.3,167.7C1932.4,166.8 1940.0,161.9 1945.1,162.1C1950.2,162.3 1953.7,164.7 1957.9,169.0C1962.2,173.3 1965.9,182.0 1970.6,188.1C1975.3,194.2 1980.8,203.8 1985.9,205.5C1991.0,207.2 1996.1,200.4 2001.2,198.3C2006.3,196.2 2011.8,195.1 2016.5,193.2C2021.2,191.3 2025.7,190.2 2029.3,186.8C2032.9,183.4 2035.5,177.2 2038.2,172.8C2041.0,168.4 2043.2,161.9 2045.8,160.6C2048.3,159.3 2051.4,161.9 2053.5,165.2C2055.6,168.5 2057.5,177.3 2058.6,180.5C2059.7,183.7 2059.7,183.7 2059.9,184.3" fill="none" stroke="#C479E4" stroke-width="10.8" stroke-linejoin="round" stroke-linecap="butt"/>
<line class="g" x1="478.4" y1="1334.3" x2="557" y2="1367.2" stroke="#000" stroke-width="7.2"/>
<line class="g" x1="1345.3" y1="1387.2" x2="1422.9" y2="1354.4" stroke="#000" stroke-width="7.4"/>
<rect class="g" x="1481.9" y="1105" width="150" height="103" fill="none" stroke="#930000" stroke-width="7.8"/>
<rect class="g" x="1721.8" y="1101" width="283.1" height="103.1" fill="none" stroke="#FF8000" stroke-width="7.8"/>
<line class="g" x1="1621.4" y1="58" x2="1631.2" y2="1211.9" stroke="#930000" stroke-width="10.8" stroke-dasharray="25.6 18.1"/>
<line class="g" x1="2009.7" y1="55" x2="2019.9" y2="1209.7" stroke="#FF8000" stroke-width="11.5" stroke-dasharray="25.6 18.13"/>
<text id="lab0" transform="translate(753.72,197.63) scale(0.9497,1)" font-size="78.27" fill="#B238FF">MOF/CF-11</text>
<text id="lab1" transform="translate(777.47,463.38) scale(0.9496,1)" font-size="77.73" fill="#00885A">MOF/CF-9</text>
<text id="lab2" transform="translate(757.47,822.34) scale(0.9521,1)" font-size="77.69" fill="#0038FF">MOF/CF-7</text>
<text id="lab3" transform="translate(761.43,1063.35) scale(0.9415,1)" font-size="78.34" fill="#FF0000">MOF/CF-5</text>
<text id="lab4" transform="translate(755.89,1307.27) scale(0.9543,1)" font-size="77.59" fill="#A0A0A0">CF-COOH</text>
<text id="a3440" transform="translate(575.13,1402.32) scale(0.9937,1)" font-size="63.17" fill="#000">3440</text>
<text id="a1630" transform="translate(1206.79,1409.61) scale(0.9874,1)" font-size="63.06" fill="#000">1630</text>
<text id="cn" transform="translate(1491.17,1182.66) scale(0.9451,1)" font-size="78.24" fill="#000">C-N</text>
<text id="zr" transform="translate(1729.61,1178.11) scale(1.0101,1)" font-size="74.27" fill="#000">Zr-(OC)</text>
<text id="xt1" class="nk" transform="translate(818.96,1628.54) scale(1.0428,1)" font-size="77.22" fill="#000">Wavenumber</text>
<text id="xt2" stroke="#000" stroke-width="1.5" stroke-linejoin="round" transform="translate(1284.44,1623.53) scale(1.1568,1)" font-size="65.02" fill="#000">（</text>
<text id="xt3" class="nk" transform="translate(1368.40,1628.06) scale(0.9439,1)" font-size="82.80" fill="#000">cm</text>
<text id="xt4" transform="translate(1470.05,1594.99) scale(0.9434,1)" font-size="55.19" fill="#000">-1</text>
<text id="xt5" stroke="#000" stroke-width="1.5" stroke-linejoin="round" transform="translate(1523.70,1623.83) scale(1.1633,1)" font-size="66.74" fill="#000">）</text>
<text id="yt1" class="nk" transform="translate(83.69,1124.03) rotate(-90) scale(1.0468,1)" font-size="74.55" fill="#000">Transmittance</text>
<text id="yt2" stroke="#000" stroke-width="1.5" stroke-linejoin="round" transform="translate(79.34,638.48) rotate(-90) scale(1.1809,1)" font-size="64.45" fill="#000">（</text>
<text id="yt3" class="nk" transform="translate(82.94,555.39) rotate(-90) scale(1.0209,1)" font-size="76.10" fill="#000">a.u</text>
<text id="yt4" stroke="#000" stroke-width="1.5" stroke-linejoin="round" transform="translate(79.26,446.59) rotate(-90) scale(1.1754,1)" font-size="65.44" fill="#000">）</text>
<text id="tk4000" transform="translate(127.1,1545.1) scale(0.9465,1)" font-size="69.8" text-anchor="middle" fill="#000">4000</text>
<text id="tk3500" transform="translate(402.5,1545.1) scale(0.9465,1)" font-size="69.8" text-anchor="middle" fill="#000">3500</text>
<text id="tk3000" transform="translate(678.5,1545.1) scale(0.9465,1)" font-size="69.8" text-anchor="middle" fill="#000">3000</text>
<text id="tk2500" transform="translate(954.5,1545.1) scale(0.9465,1)" font-size="69.8" text-anchor="middle" fill="#000">2500</text>
<text id="tk2000" transform="translate(1230.5,1545.1) scale(0.9465,1)" font-size="69.8" text-anchor="middle" fill="#000">2000</text>
<text id="tk1500" transform="translate(1506.5,1545.1) scale(0.9465,1)" font-size="69.8" text-anchor="middle" fill="#000">1500</text>
<text id="tk1000" transform="translate(1782.5,1545.1) scale(0.9465,1)" font-size="69.8" text-anchor="middle" fill="#000">1000</text>
<text id="tk500" transform="translate(2058.5,1545.1) scale(0.9465,1)" font-size="69.8" text-anchor="middle" fill="#000">500</text>
<rect class="g" x="2075.5" y="1480" width="14.5" height="90" fill="#fff"/>
</svg></body></html>
